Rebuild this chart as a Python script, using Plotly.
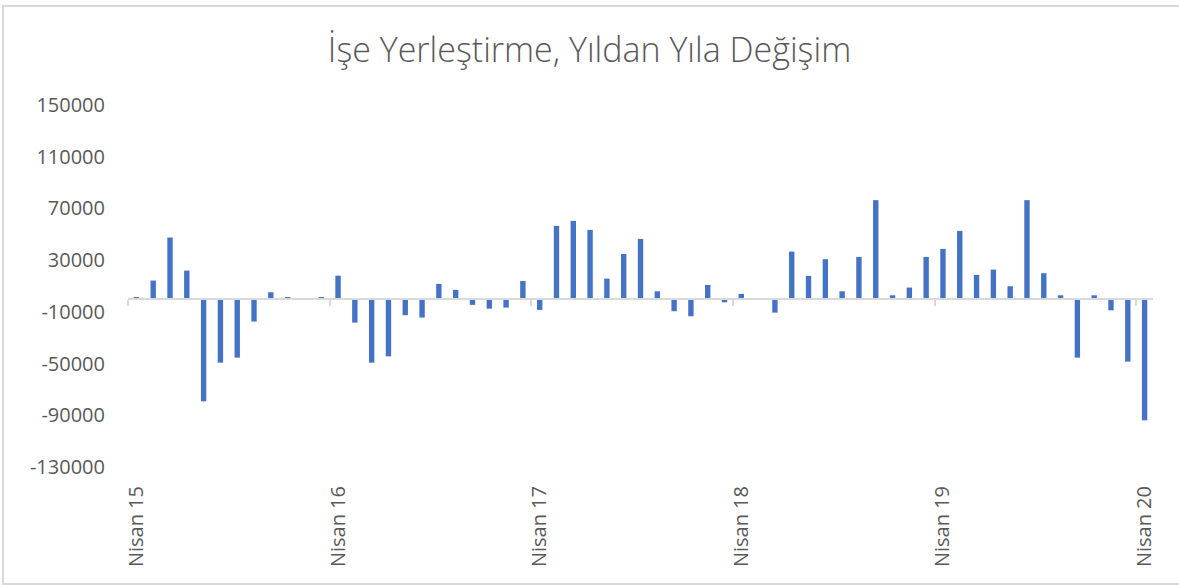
import plotly.graph_objects as go

# Monthly year-over-year change in job placements, Nisan 2015 .. Nisan 2020 (61 months)
values = [
    1000, 14200, 47500, 21900, -79200, -49300, -45400, -17500, 5200, 1000, 0, 1000,
    18000, -18300, -49300, -44400, -12600, -14400, 11600, 7000, -4600, -7500, -6700, 13900,
    -8500, 56500, 60400, 53400, 15700, 34800, 46400, 5900, -9500, -13400, 10800, -2600,
    3900, 0, -10600, 36600, 17800, 30700, 5900, 32500, 76400, 2800, 8800, 32500,
    38700, 52600, 18600, 22700, 9800, 76400, 19900, 2800, -45400, 2800, -8800, -48500,
    -93900,
]
month_index = list(range(len(values)))
label_positions = [0, 12, 24, 36, 48, 60]
label_texts = ["Nisan 15", "Nisan 16", "Nisan 17", "Nisan 18", "Nisan 19", "Nisan 20"]
boundary_ticks = [-0.5, 11.5, 23.5, 35.5, 47.5, 59.5]
y_ticks = [-130000, -90000, -50000, -10000, 30000, 70000, 110000, 150000]
y_tick_texts = [str(v) for v in y_ticks]
title_text = "İşe Yerleştirme, Yıldan Yıla Değişim"

y_min, y_max = -130000, 150000
zero_pos = (0 - y_min) / (y_max - y_min)

fig = go.Figure()
fig.add_trace(go.Bar(
    x=month_index, y=values, width=0.32,
    marker=dict(color="#4472C4", line=dict(width=0)),
    showlegend=False,
))
fig.add_trace(go.Scatter(x=[None], y=[None], xaxis="x2", yaxis="y",
                         showlegend=False, hoverinfo="skip"))

font_family = "Open Sans, Liberation Sans, sans-serif"
fig.update_layout(
    width=1179, height=585,
    paper_bgcolor="white", plot_bgcolor="white",
    margin=dict(l=128, r=26, t=105, b=118),
    title=dict(text=title_text, x=0.5, xanchor="center", y=1 - 50 / 585, yanchor="middle",
               font=dict(family=font_family, size=34, color="#595959", weight=300)),
    xaxis=dict(
        range=[-0.5, 60.5], tickmode="array", tickvals=label_positions, ticktext=label_texts,
        tickangle=-90, showgrid=False, zeroline=False, showline=False,
        ticks="", ticklabelstandoff=14,
        tickfont=dict(family=font_family, size=20, color="#595959"),
    ),
    xaxis2=dict(
        overlaying="x", anchor="free", position=zero_pos, side="bottom",
        range=[-0.5, 60.5], tickmode="array", tickvals=boundary_ticks,
        showticklabels=False, showgrid=False, zeroline=False,
        showline=True, linecolor="#D9D9D9", linewidth=2,
        ticks="outside", ticklen=6, tickwidth=2, tickcolor="#D9D9D9",
    ),
    yaxis=dict(
        range=[y_min, y_max], tickmode="array", tickvals=y_ticks, ticktext=y_tick_texts,
        showgrid=False, zeroline=False, showline=False, ticks="", ticklabelstandoff=22,
        tickfont=dict(family=font_family, size=20, color="#595959"),
    ),
    shapes=[dict(type="rect", xref="paper", yref="paper",
                 x0=-125 / 1025, x1=1.2, y0=-117 / 362, y1=1 + 99 / 362,
                 line=dict(color="#D9D9D9", width=2), fillcolor="rgba(0,0,0,0)", layer="below")],
)

fig.write_html("out.html", config={"displayModeBar": False},
               post_script="document.body.style.margin='0';")
